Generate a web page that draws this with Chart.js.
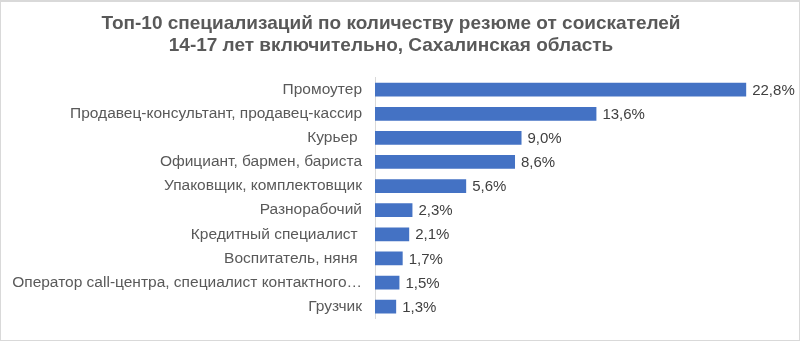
<!DOCTYPE html>
<html lang="ru">
<head>
<meta charset="utf-8">
<script src="https://cdn.jsdelivr.net/npm/chart.js@4.4.1/dist/chart.umd.min.js"></script>
<style>
  html, body { margin: 0; padding: 0; background: #fff; }
  #wrap { position: relative; width: 800px; height: 341px; }
  #frame { position: absolute; inset: 0; border: 1px solid #d9d9d9; border-top-width: 2px; pointer-events: none; }
</style>
</head>
<body>
<div id="wrap">
  <canvas id="chart" width="800" height="341"></canvas>
  <div id="frame"></div>
</div>
<script>
  const titleLines = [
    'Топ-10 специализаций по количеству резюме от соискателей',
    '14-17 лет включительно, Сахалинская область'
  ];

  const categories = [
    'Промоутер',
    'Продавец-консультант, продавец-кассир',
    'Курьер ',
    'Официант, бармен, бариста',
    'Упаковщик, комплектовщик',
    'Разнорабочий',
    'Кредитный специалист ',
    'Воспитатель, няня ',
    'Оператор call-центра, специалист контактного…',
    'Грузчик'
  ];

  const shares = [22.8, 13.6, 9.0, 8.6, 5.6, 2.3, 2.1, 1.7, 1.5, 1.3];

  const fontFamily = '"Liberation Sans", Arial, sans-serif';

  // value labels at the end of each bar, e.g. "22,8%"
  const valueLabels = {
    id: 'valueLabels',
    afterDatasetsDraw(chart) {
      const ctx = chart.ctx;
      const meta = chart.getDatasetMeta(0);
      ctx.save();
      ctx.font = '15px ' + fontFamily;
      ctx.fillStyle = '#404040';
      ctx.textAlign = 'left';
      ctx.textBaseline = 'middle';
      meta.data.forEach((bar, i) => {
        const txt = shares[i].toFixed(1).replace('.', ',') + '%';
        ctx.fillText(txt, bar.x + 6, bar.y + 1);
      });
      ctx.restore();
    }
  };

  new Chart(document.getElementById('chart'), {
    type: 'bar',
    data: {
      labels: categories,
      datasets: [{
        data: shares,
        backgroundColor: '#4472C4',
        borderWidth: 0,
        categoryPercentage: 1,
        barPercentage: 0.57
      }]
    },
    options: {
      indexAxis: 'y',
      responsive: false,
      animation: false,
      layout: { padding: { left: 0, right: 18, top: 0, bottom: 14 } },
      plugins: {
        legend: { display: false },
        tooltip: { enabled: false },
        title: {
          display: true,
          text: titleLines,
          color: '#595959',
          font: { family: fontFamily, size: 19, weight: 'bold', lineHeight: 1.2 },
          padding: { top: 12, bottom: 20 }
        }
      },
      scales: {
        x: {
          display: false,
          min: 0,
          max: 25
        },
        y: {
          grid: { display: false, drawTicks: false },
          border: { display: true, color: '#d9d9d9', width: 1 },
          ticks: {
            color: '#595959',
            padding: 13,
            font: { family: fontFamily, size: 15.5 }
          },
          afterFit(scale) { scale.width = 375; }
        }
      }
    },
    plugins: [valueLabels]
  });
</script>
</body>
</html>
